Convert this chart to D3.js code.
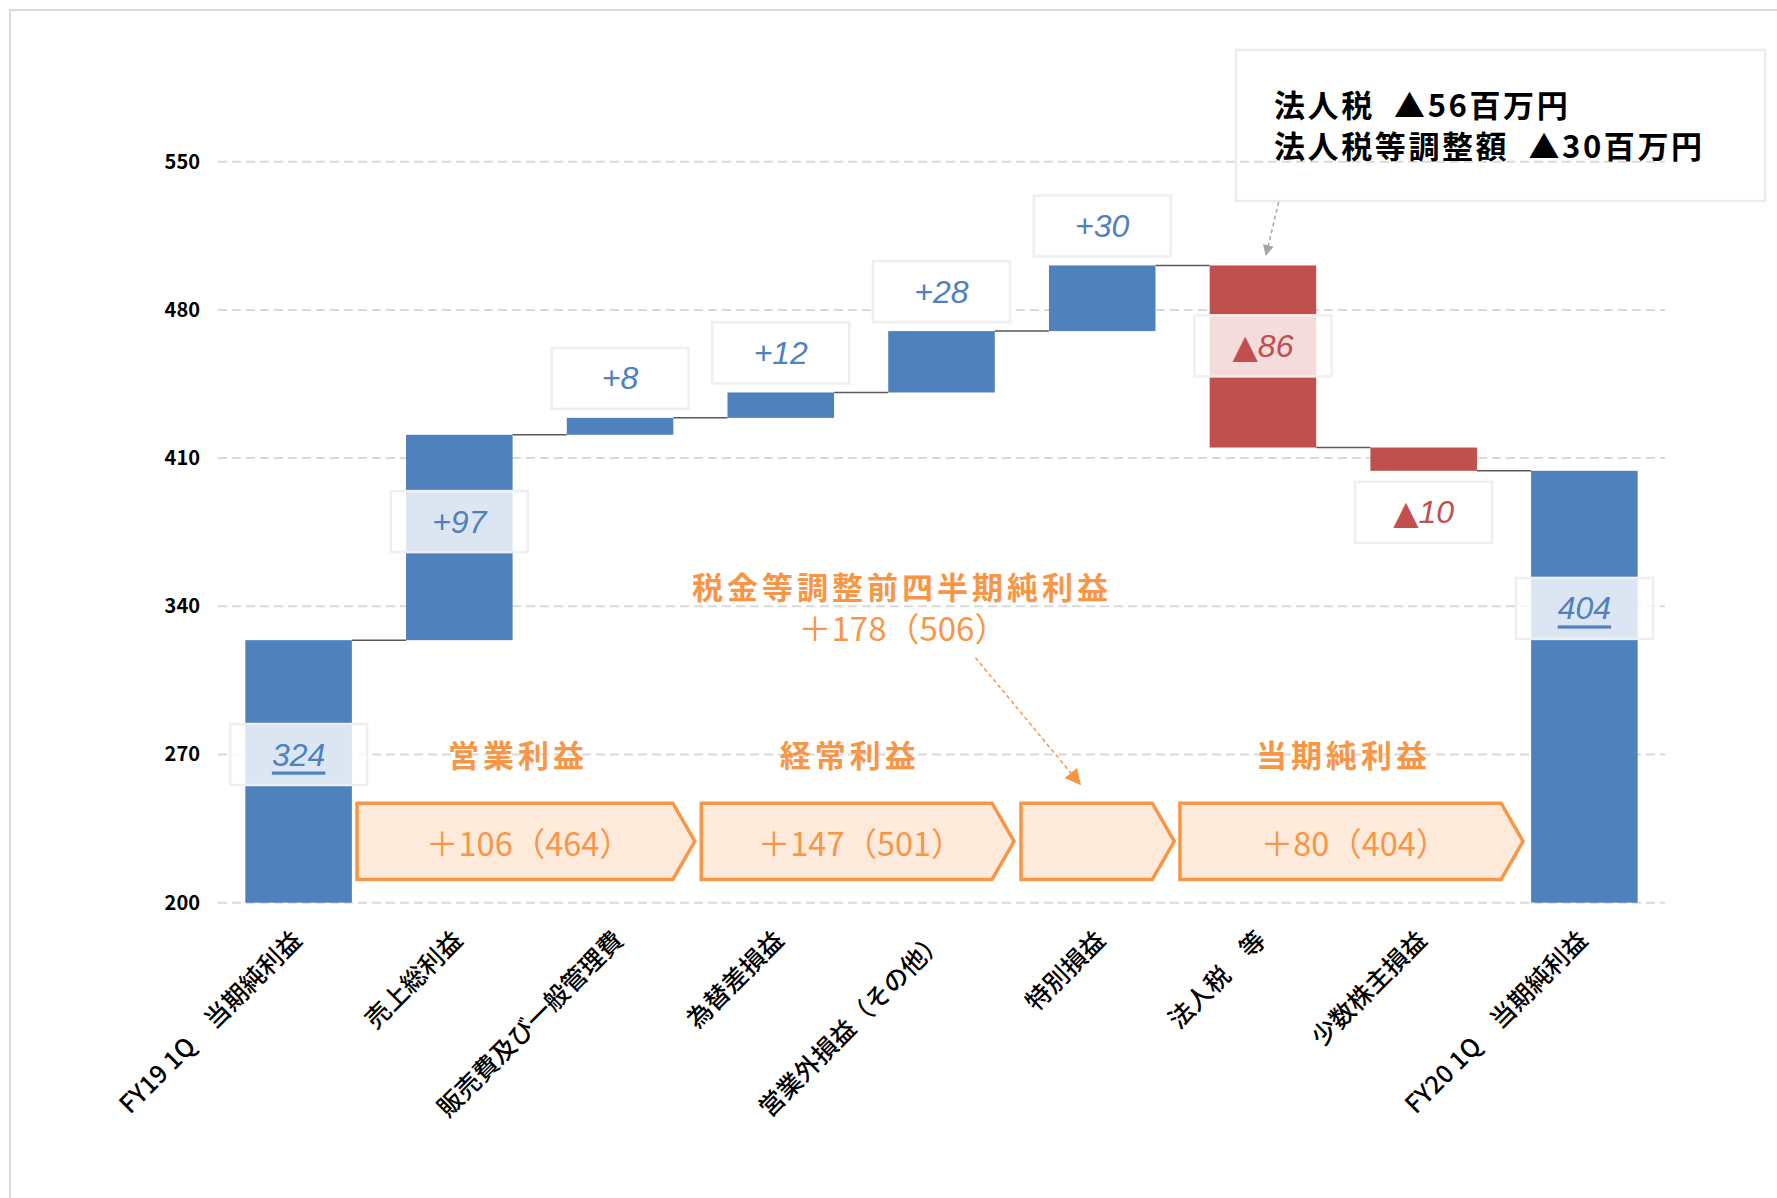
<!DOCTYPE html>
<html><head><meta charset="utf-8">
<script src="https://cdn.jsdelivr.net/npm/d3@7"></script>
<style>body{margin:0;background:#fff;} svg{display:block;}</style>
</head><body>
<svg id="chart" width="1777" height="1198"></svg>
<script>
// ---------- data ----------
const categories = ["FY19 1Q　当期純利益","売上総利益","販売費及び一般管理費","為替差損益","営業外損益（その他）","特別損益","法人税　等","少数株主損益","FY20 1Q　当期純利益"];
const barKinds  = ["total","delta","delta","delta","delta","delta","delta","delta","total"];
const barValues = [324, 97, 8, 12, 29, 31, -86, -11, 404];
const barLabels = ["324","+97","+8","+12","+28","+30","▲86","▲10","404"];
const yTicks = [200, 270, 340, 410, 480, 550];
const stageTitles = ["営業利益","経常利益","","当期純利益"];
const stageTexts  = ["＋106（464）","＋147（501）","","＋80（404）"];
const pretaxTitle = "税金等調整前四半期純利益";
const pretaxText  = "＋178（506）";
const noteLines = ["法人税  ▲56百万円","法人税等調整額  ▲30百万円"];

// ---------- layout ----------
const svg = d3.select("#chart");
const JP = "'Noto Sans CJK JP','Noto Sans',sans-serif";
const NUM = "'Liberation Sans Narrow','Liberation Sans',sans-serif";
const BLUE = "#4f81bd", RED = "#c0504d", ORANGE = "#f79646", PEACH = "#fdeada";

const y = d3.scaleLinear().domain([200, 550]).range([902.7, 161.7]);
const x = d3.scaleBand().domain(categories).range([218, 1665]).paddingInner(0.337).paddingOuter(0.17);
const bw = x.bandwidth();
const cx = i => x(categories[i]) + bw / 2;

// outer frame
svg.append("rect").attr("x", 10).attr("y", 10).attr("width", 1800).attr("height", 1300)
  .attr("fill", "none").attr("stroke", "#d9d9d9").attr("stroke-width", 2);

// gridlines
svg.append("g").selectAll("line").data(yTicks).join("line")
  .attr("x1", 218).attr("x2", 1665).attr("y1", d => y(d)).attr("y2", d => y(d))
  .attr("stroke", "#d9d9d9").attr("stroke-width", 2).attr("stroke-dasharray", "9,5");

// y axis labels
const yAxis = d3.axisLeft(y).tickValues(yTicks).tickSize(0).tickPadding(0);
const yg = svg.append("g").attr("transform", "translate(200,0)").call(yAxis);
yg.select(".domain").remove();
yg.selectAll("text").attr("font-family", JP).attr("font-size", 20).attr("font-weight", 600).attr("fill", "#000");

// compute bars
let run = 0;
const bars = barValues.map((v, i) => {
  if (barKinds[i] === "total") { run = v; return {i, lo: 200, hi: v, end: v, color: BLUE}; }
  const s = run; run += v;
  return {i, lo: Math.min(s, run), hi: Math.max(s, run), end: run, color: v >= 0 ? BLUE : RED};
});

// connectors
svg.append("g").selectAll("line").data(bars.slice(0, -1)).join("line")
  .attr("x1", d => x(categories[d.i]) + bw).attr("x2", d => x(categories[d.i + 1]))
  .attr("y1", d => y(d.end)).attr("y2", d => y(d.end))
  .attr("stroke", "#595959").attr("stroke-width", 1.5);

// bars
svg.append("g").selectAll("rect").data(bars).join("rect")
  .attr("x", d => x(categories[d.i])).attr("width", bw)
  .attr("y", d => y(d.hi)).attr("height", d => y(d.lo) - y(d.hi))
  .attr("fill", d => d.color);

// data labels
const place = {0: ["in", 270], 1: ["in", 380], 2: ["above"], 3: ["above"], 4: ["above"], 5: ["above"], 6: ["in", 463], 7: ["below"], 8: ["in", 339]};
const BW = 137, BH = 61;
const lg = svg.append("g");
bars.forEach(b => {
  const p = place[b.i];
  let cy;
  if (p[0] === "in") cy = y(p[1]);
  else if (p[0] === "above") cy = y(b.hi) - 9 - BH / 2;
  else cy = y(b.lo) + 11 + BH / 2;
  const c = cx(b.i);
  lg.append("rect").attr("x", c - BW / 2).attr("y", cy - BH / 2).attr("width", BW).attr("height", BH)
    .attr("fill", p[0] === "in" ? "rgba(255,255,255,0.8)" : "#fff")
    .attr("stroke", "#efefef").attr("stroke-width", 2.5);
  const t = lg.append("text").attr("x", c).attr("y", cy).attr("text-anchor", "middle")
    .attr("dominant-baseline", "central").attr("font-family", NUM).attr("font-style", "italic")
    .attr("font-size", 32).attr("fill", b.color);
  const lab = barLabels[b.i];
  if (lab.startsWith("▲")) {
    t.append("tspan").attr("font-style", "normal").attr("font-size", 33).attr("font-family", "'DejaVu Sans',sans-serif").text("▲");
    t.append("tspan").text(lab.slice(1));
  } else t.text(lab);
  if (barKinds[b.i] === "total") t.attr("text-decoration", "underline");
});

// x labels
svg.append("g").selectAll("text").data(categories).join("text")
  .attr("transform", (d, i) => `translate(${cx(i) - 3},934) rotate(-45)`)
  .attr("text-anchor", "end").attr("dominant-baseline", "central")
  .attr("font-family", JP).attr("font-size", 25).attr("font-weight", 500).attr("fill", "#000")
  .text(d => d);

// stage chevrons
const pos = t => x.range()[0] + t * x.step();
const chevrons = [[0.865, 2.967], [3.007, 4.953], [4.996, 5.95], [5.985, 8.12]];
const cy0 = y(247), cy1 = y(211), cym = (cy0 + cy1) / 2;
const cg = svg.append("g");
chevrons.forEach((c, k) => {
  const x0 = pos(c[0]), xt = pos(c[1]), xn = xt - 22;
  cg.append("path").attr("d", `M${x0},${cy0}L${xn},${cy0}L${xt},${cym}L${xn},${cy1}L${x0},${cy1}Z`)
    .attr("fill", PEACH).attr("stroke", ORANGE).attr("stroke-width", 3.5).attr("stroke-linejoin", "miter");
  const mid = (x0 + xt) / 2;
  if (stageTexts[k]) cg.append("text").attr("x", mid + 3).attr("y", cym).attr("text-anchor", "middle")
    .attr("dominant-baseline", "central").attr("font-family", JP).attr("font-size", 32.5)
    .attr("fill", ORANGE).text(stageTexts[k]);
  if (stageTitles[k]) cg.append("text").attr("x", mid - 8).attr("y", y(270) - 1).attr("text-anchor", "middle")
    .attr("dominant-baseline", "central").attr("font-family", JP).attr("font-size", 31).attr("font-weight", 700)
    .attr("letter-spacing", 4).attr("fill", ORANGE).text(stageTitles[k]);
});

// pretax annotation
svg.append("text").attr("x", 902).attr("y", 585).attr("text-anchor", "middle").attr("dominant-baseline", "central")
  .attr("font-family", JP).attr("font-size", 31).attr("font-weight", 700).attr("letter-spacing", 4)
  .attr("fill", ORANGE).text(pretaxTitle);
svg.append("text").attr("x", 903).attr("y", 627).attr("text-anchor", "middle").attr("dominant-baseline", "central")
  .attr("font-family", JP).attr("font-size", 33).attr("fill", ORANGE).text(pretaxText);

// arrowheads
const defs = svg.append("defs");
function marker(id, color, size) {
  defs.append("marker").attr("id", id).attr("viewBox", "0 0 10 10").attr("refX", 9).attr("refY", 5)
    .attr("markerWidth", size).attr("markerHeight", size).attr("markerUnits", "userSpaceOnUse").attr("orient", "auto")
    .append("path").attr("d", "M0,0L10,5L0,10Z").attr("fill", color);
}
marker("arrO", ORANGE, 16); marker("arrG", "#a6a6a6", 11);
svg.append("line").attr("x1", 975.5).attr("y1", 657.7).attr("x2", 1080).attr("y2", 784)
  .attr("stroke", ORANGE).attr("stroke-width", 1.5).attr("stroke-dasharray", "4,3").attr("marker-end", "url(#arrO)");

// note box
svg.append("rect").attr("x", 1236).attr("y", 50).attr("width", 529).attr("height", 151)
  .attr("fill", "none").attr("stroke", "#ececec").attr("stroke-width", 2.5);
noteLines.forEach((t, k) => svg.append("text").attr("x", 1274).attr("y", k ? 144 : 103)
  .attr("dominant-baseline", "central").attr("font-family", JP).attr("font-size", 31).attr("font-weight", 700)
  .attr("letter-spacing", 2.6).attr("xml:space", "preserve").style("white-space", "pre").attr("fill", "#000").text(t));
svg.append("line").attr("x1", 1278.7).attr("y1", 202).attr("x2", 1266).attr("y2", 255)
  .attr("stroke", "#a6a6a6").attr("stroke-width", 1.5).attr("stroke-dasharray", "4,3").attr("marker-end", "url(#arrG)");
</script>
</body></html>
